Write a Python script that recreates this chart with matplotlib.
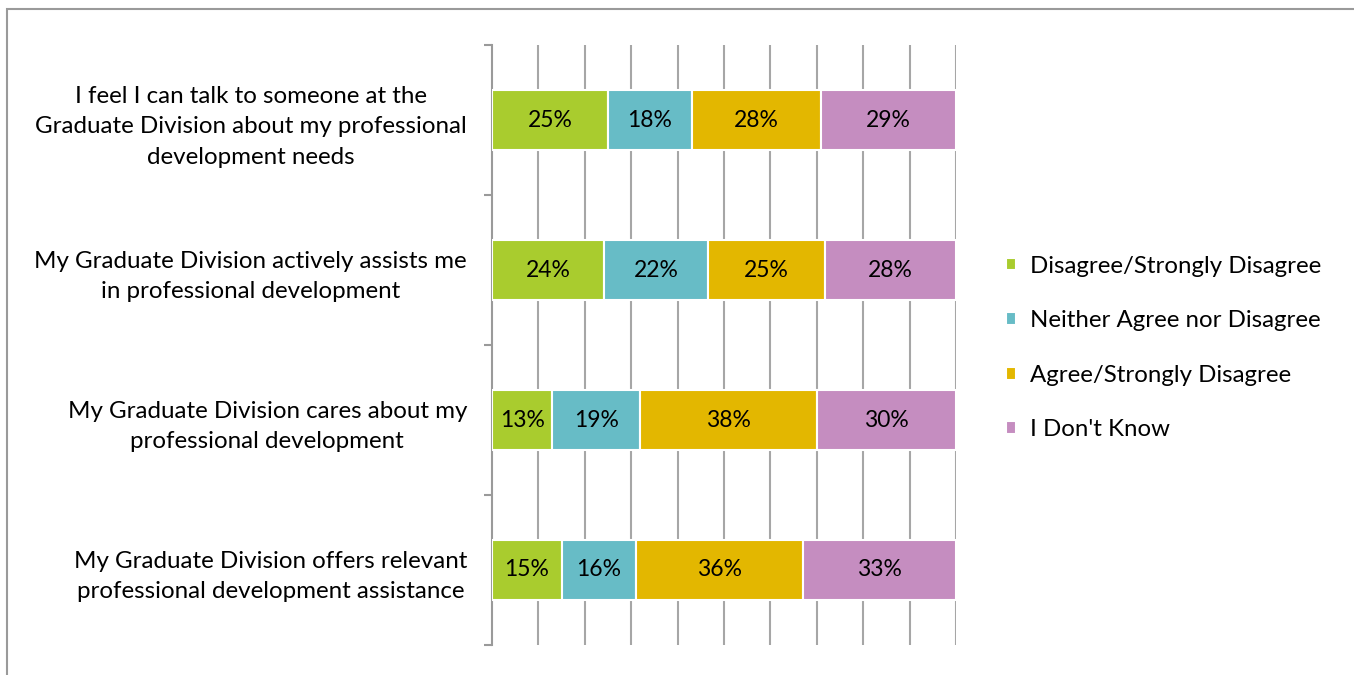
import numpy as np
import matplotlib
matplotlib.use("Agg")
import matplotlib.pyplot as plt
from matplotlib.patches import Rectangle

plt.rcParams['font.family'] = ['Lato', 'DejaVu Sans']

# survey items, top to bottom
questions = [
    "I feel I can talk to someone at the\nGraduate Division about my professional\ndevelopment needs",
    "My Graduate Division actively assists me\nin professional development",
    "My Graduate Division cares about my\nprofessional development",
    "My Graduate Division offers relevant\nprofessional development assistance",
]
responses = [
    "Disagree/Strongly Disagree",
    "Neither Agree nor Disagree",
    "Agree/Strongly Disagree",
    "I Don't Know",
]
disagree = [25, 24, 13, 15]
neither = [18, 22, 19, 16]
agree = [28, 25, 38, 36]
dont_know = [29, 28, 30, 33]

colors = ["#A9CC2E", "#67BCC6", "#E3B700", "#C58DC0"]

series = np.array([disagree, neither, agree, dont_know], dtype=float)
shares = series / series.sum(axis=0)  # 100% stacked

fig = plt.figure(figsize=(13.54, 6.75), dpi=100)

# outer chart frame
fig.patches.append(Rectangle((7 / 1354, -0.1), 1.2, 1.1 - 9 / 675,
                             transform=fig.transFigure, fill=False,
                             edgecolor="#9A9A9A", linewidth=1.5))

ax = fig.add_axes([492 / 1354, 1 - 645 / 675, 464 / 1354, 600 / 675])

y = np.arange(len(questions))
left = np.zeros(len(questions))
for k in range(len(responses)):
    bars = ax.barh(y, shares[k], left=left, height=0.4, color=colors[k],
                   edgecolor="white", linewidth=1.5, label=responses[k], zorder=3)
    for i, b in enumerate(bars):
        ax.text(left[i] + shares[k][i] / 2, y[i], f"{int(series[k][i])}%",
                ha="center", va="center", fontsize=16.5, color="black", zorder=4)
    left += shares[k]

ax.set_xlim(0, 1)
ax.set_ylim(len(questions) - 0.5, -0.5)

# vertical gridlines every 10%
ax.set_xticks(np.linspace(0.1, 1.0, 10))
ax.xaxis.grid(True, color="#A6A6A6", linewidth=1.5, zorder=0)
ax.tick_params(axis="x", length=0, labelbottom=False)

ax.set_yticks(np.arange(-0.5, len(questions), 1.0), minor=False)
ax.set_yticklabels([])
ax.tick_params(axis="y", direction="out", length=6, width=1.5, color="#9A9A9A")
ax.set_yticks(y, minor=True)
ax.set_yticklabels(questions, minor=True, fontsize=17.4, linespacing=1.55)
ax.tick_params(axis="y", which="minor", length=0, pad=18)
for lab in ax.get_yticklabels(minor=True):
    lab.set_multialignment("center")

for s in ["top", "right", "bottom"]:
    ax.spines[s].set_visible(False)
ax.spines["left"].set_color("#9A9A9A")
ax.spines["left"].set_linewidth(1.5)

leg = fig.legend(loc="center left", bbox_to_anchor=(984 / 1354, 1 - 348 / 675),
                 frameon=False, fontsize=17.3, handlelength=0.45, handleheight=0.45,
                 handletextpad=0.55, labelspacing=1.4)

fig.savefig("out.png", dpi=100)
